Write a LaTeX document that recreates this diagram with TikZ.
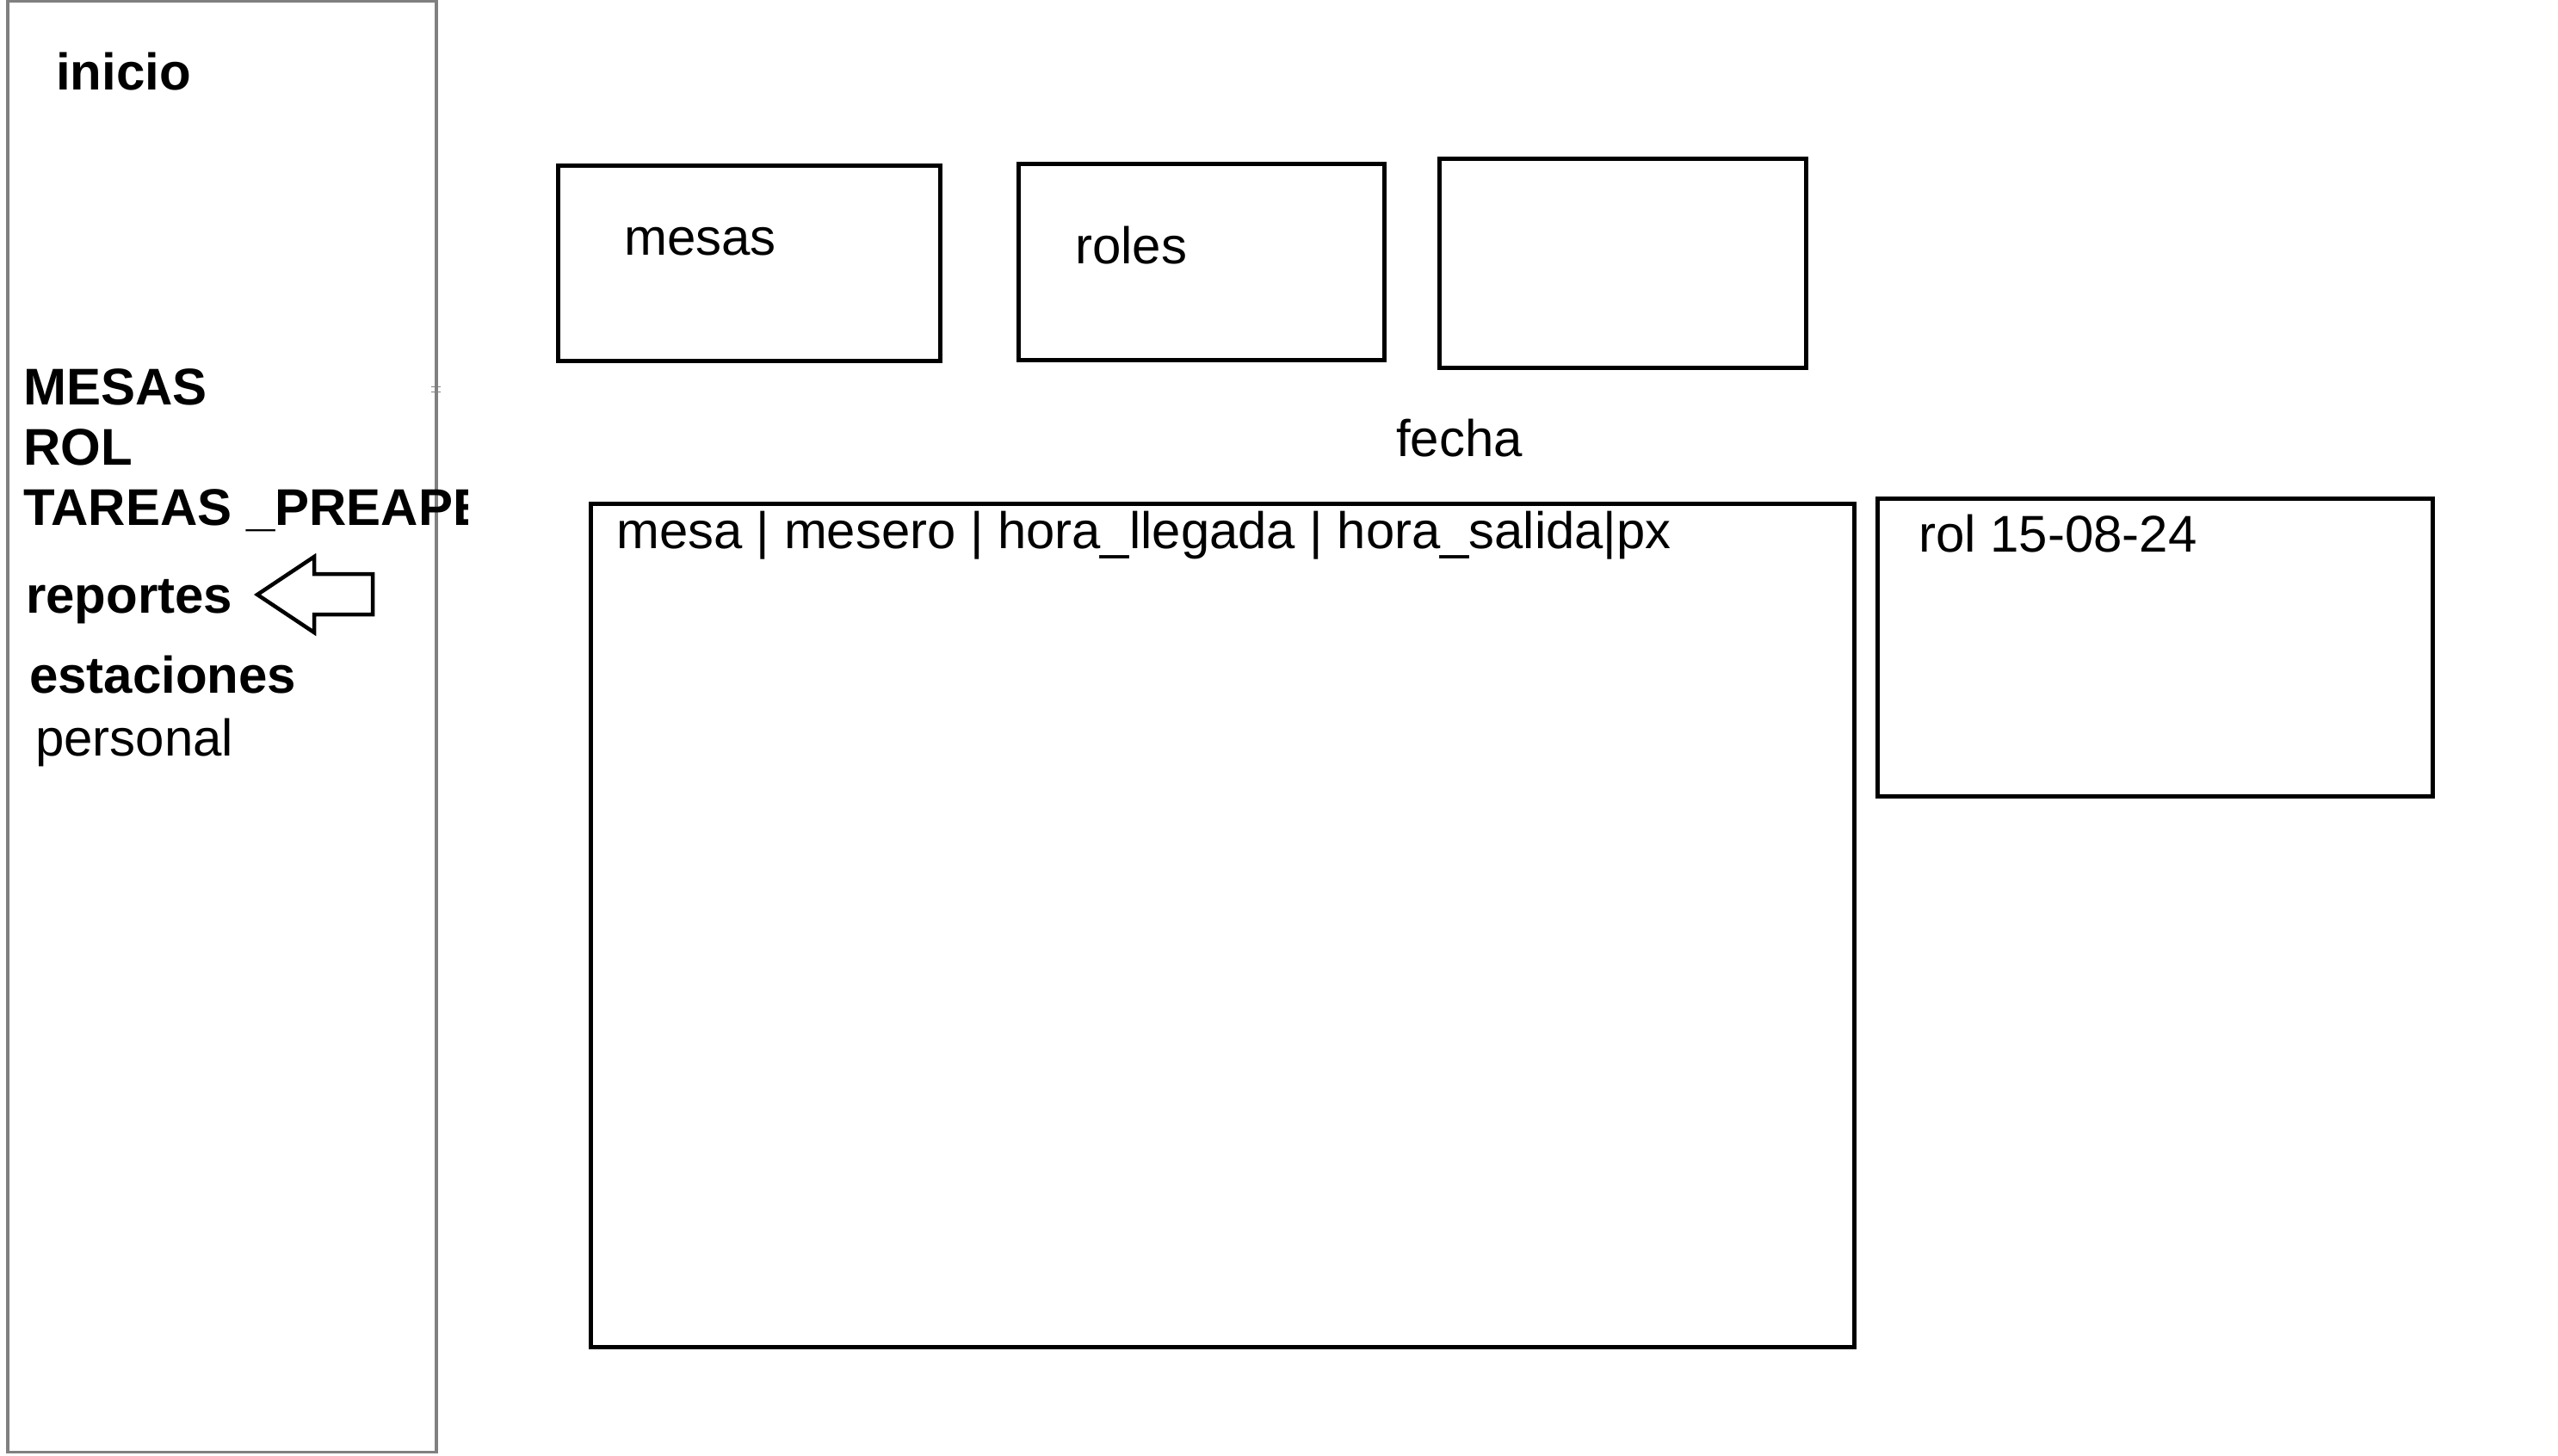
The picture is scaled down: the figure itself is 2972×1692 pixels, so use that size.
\documentclass[tikz,border=0pt]{standalone}
\usepackage{fontspec}
\setmainfont{Liberation Sans}
\usepackage{xcolor}
\usepackage{tikz}
\usetikzlibrary{positioning}
\definecolor{sidegray}{HTML}{808080}

\begin{document}
\begin{tikzpicture}[
  x=1pt, y=-1pt,
  box/.style={rectangle, draw=black, line width=5pt, inner sep=0pt, outer sep=0pt, anchor=north west},
  lbl/.style={inner sep=0pt, anchor=base west, font=\fontsize{60}{70}\selectfont},
  menu/.style={lbl, font=\fontsize{60}{70}\selectfont\bfseries},
  arr/.style={draw=black, line width=4.5pt, line join=miter},
]
\useasboundingbox (0,0) rectangle (2972,1692);

% Sidebar
\node[box, draw=sidegray, line width=3.5pt, minimum width=498pt, minimum height=1686pt] (side) at (9,1.5) {};
\draw[sidegray, line width=1pt] (501,449) -- (512,449) (501,455) -- (512,455);
\node[menu] (inicio) at (65,104) {inicio};
\node[menu] (mesasmenu) at (27,470) {MESAS};
\node[menu] (rolmenu) at (27,540) {ROL};
\begin{scope}
  \clip (0,0) rectangle (543,1692);
  \node[menu] (tareas) at (27,610) {TAREAS \_PREAPERTURA};
\end{scope}
\node[menu] (reportes) at (30,712) {reportes};
\node[menu] (estaciones) at (34,805) {estaciones};
\node[lbl] (personal) at (41,878) {personal};

% Pointer
\draw[arr] (299,691) -- (365,647) -- (365,667) -- (433,667) -- (433,714) -- (365,714) -- (365,735) -- cycle;

% Top cards
\node[box, minimum width=444pt, minimum height=227pt] (mesasbox) at (648,192) {};
\node[box, minimum width=425pt, minimum height=228pt] (rolesbox) at (1183,190) {};
\node[box, minimum width=426pt, minimum height=243pt] (emptybox) at (1672,184) {};
\node[lbl] (mesas) at (725,296) {mesas};
\node[lbl] (roles) at (1249,306) {roles};

% Date
\node[lbl] (fecha) at (1622,530) {fecha};

% Tables
\node[box, minimum width=1468pt, minimum height=980pt] (mainbox) at (686,585) {};
\node[lbl, font=\fontsize{59.8}{70}\selectfont] (header) at (716,637) {mesa | mesero | hora\_llegada | hora\_salida|px};
\node[box, minimum width=645pt, minimum height=346pt] (rolbox) at (2181,579) {};
\node[lbl] (roldate) at (2229,641) {rol 15-08-24};

\end{tikzpicture}
\end{document}
